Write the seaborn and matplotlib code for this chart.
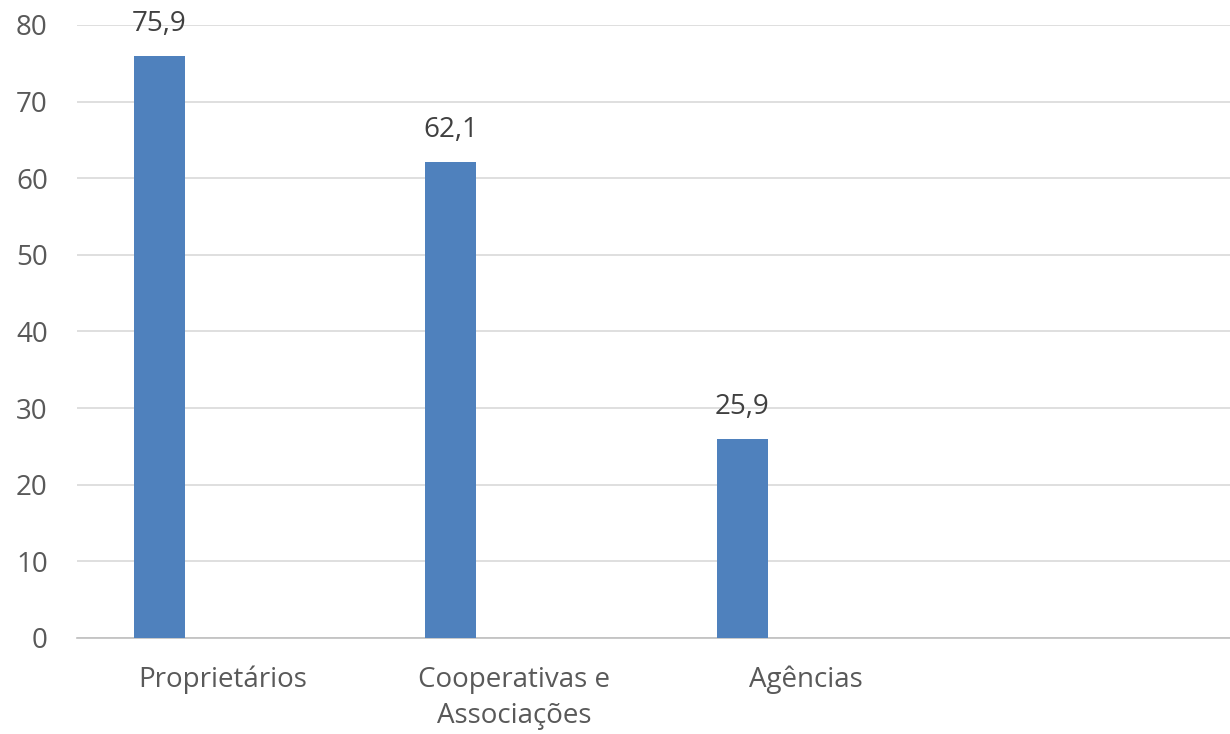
import matplotlib
matplotlib.use("Agg")
import matplotlib.pyplot as plt
import seaborn as sns
import pandas as pd

categories = ["Proprietários", "Cooperativas e\nAssociações", "Agências", " "]
values = [75.9, 62.1, 25.9]
series_name = "Série 1"
series_order = ["Série 1", "Série 2", "Série 3"]
yticks = [0, 10, 20, 30, 40, 50, 60, 70, 80]

df = pd.DataFrame({"cat": categories[:3], "val": values, "serie": [series_name] * 3})

sns.set_theme(style="white")
plt.rcParams["font.family"] = ["Open Sans", "DejaVu Sans"]

fig = plt.figure(figsize=(12.3, 7.34), dpi=100)
ax = fig.add_axes([77 / 1230, 0.131, 1166 / 1230, 0.835])

sns.barplot(data=df, x="cat", y="val", hue="serie", order=categories,
            hue_order=series_order, palette=["#4F81BD", "#C0504D", "#9BBB59"],
            width=0.654, gap=0.2, dodge=True, saturation=1, linewidth=0,
            legend=False, ax=ax, zorder=3)

ax.set_ylim(0, 80)
ax.set_xlim(-0.5, len(categories) - 0.5)
ax.set_yticks(yticks)
ax.yaxis.grid(True, color="#D9D9D9", linewidth=1.2, zorder=0)
ax.set_axisbelow(True)
for s in ["top", "right", "left"]:
    ax.spines[s].set_visible(False)
ax.spines["bottom"].set_color("#BFBFBF")
ax.spines["bottom"].set_linewidth(1.2)
ax.tick_params(axis="y", labelsize=20, colors="#595959", length=0, pad=21)
ax.tick_params(axis="x", labelsize=20, colors="#595959", length=0, pad=20)
for t in ax.get_xticklabels():
    t.set_linespacing(1.4)
ax.set_xlabel("")
ax.set_ylabel("")

for cont in ax.containers:
    labels = [f"{v:.1f}".replace(".", ",") if v > 0 else "" for v in cont.datavalues]
    ax.bar_label(cont, labels=labels, padding=13, fontsize=20, color="#404040", clip_on=False)

fig.savefig("out.png", dpi=100)
